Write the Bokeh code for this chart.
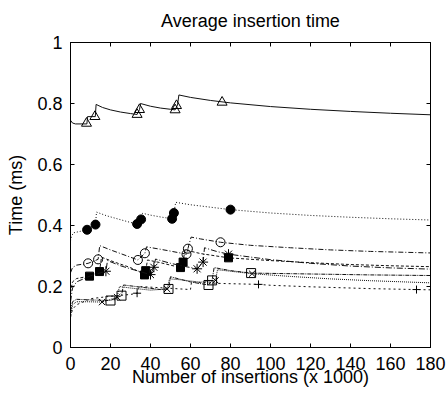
from bokeh.plotting import figure
from bokeh.models import Range1d, FixedTicker, LinearAxis
from bokeh.embed import file_html
from bokeh.resources import INLINE

title_text = "Average insertion time"
x_label = "Number of insertions (x 1000)"
y_label = "Time (ms)"
x_ticks = [0, 20, 40, 60, 80, 100, 120, 140, 160, 180]
x_tick_labels = ["0", "20", "40", "60", "80", "100", "120", "140", "160", "180"]
y_ticks = [0, 0.2, 0.4, 0.6, 0.8, 1.0]
y_tick_labels = ["0", "0.2", "0.4", "0.6", "0.8", "1"]

# Series A: open triangles, solid line
xA = [0, 1, 2.5, 8.2, 8.5, 12.4, 12.8, 16, 20, 25, 30, 33.3, 34.5, 35, 40, 45, 50, 52.3, 53.5, 54.2, 60, 70, 80, 100, 120, 140, 160, 180]
yA = [0.745, 0.736, 0.733, 0.733, 0.757, 0.757, 0.797, 0.787, 0.779, 0.772, 0.767, 0.764, 0.780, 0.800, 0.791, 0.785, 0.781, 0.779, 0.795, 0.828, 0.820, 0.810, 0.802, 0.790, 0.781, 0.774, 0.768, 0.763]
xA_pts = [8, 12.2, 33.3, 34.5, 52.3, 53, 75.8]
yA_pts = [0.735, 0.757, 0.764, 0.780, 0.779, 0.793, 0.804]

# Series B: filled circles
xB = [0, 0.5, 1.5, 5, 8.3, 12.5, 13, 18, 25, 30, 33.3, 35.3, 36, 40, 45, 50.8, 51.7, 52.6, 60, 70, 80, 100, 120, 140, 160, 180]
yB = [0.350, 0.365, 0.376, 0.381, 0.386, 0.403, 0.444, 0.432, 0.419, 0.410, 0.405, 0.420, 0.440, 0.434, 0.428, 0.422, 0.441, 0.476, 0.468, 0.460, 0.452, 0.441, 0.433, 0.427, 0.422, 0.418]
xB_pts = [8.3, 12.5, 33.3, 35.3, 50.8, 51.7, 80]
yB_pts = [0.386, 0.403, 0.405, 0.420, 0.422, 0.441, 0.452]

# Series C: open circles
xC = [0, 1, 3, 8.8, 13.8, 14.6, 20, 25, 30, 33.7, 37.2, 38, 45, 50, 58, 58.7, 60.3, 65, 75, 90, 110, 130, 150, 180]
yC = [0.245, 0.262, 0.270, 0.276, 0.289, 0.334, 0.320, 0.308, 0.296, 0.287, 0.309, 0.330, 0.322, 0.316, 0.306, 0.324, 0.362, 0.356, 0.345, 0.335, 0.327, 0.320, 0.315, 0.310]
xC_pts = [8.8, 13.8, 33.7, 37.2, 58, 58.7, 75]
yC_pts = [0.276, 0.289, 0.287, 0.309, 0.306, 0.324, 0.345]

# Series D: filled squares
xD = [0, 1, 3, 9.5, 14.5, 15.5, 22, 30, 37, 37.6, 38.5, 45, 50, 55, 56.3, 57.2, 65, 79, 100, 120, 140, 160, 180]
yD = [0.180, 0.215, 0.226, 0.234, 0.249, 0.296, 0.280, 0.262, 0.240, 0.252, 0.287, 0.278, 0.270, 0.262, 0.280, 0.320, 0.308, 0.294, 0.285, 0.278, 0.272, 0.268, 0.265]
xD_pts = [9.5, 14.5, 37, 37.6, 55, 56.3, 79]
yD_pts = [0.234, 0.249, 0.238, 0.252, 0.262, 0.280, 0.294]

# Series E: asterisks
xE = [0, 1, 3, 10, 17.7, 18.5, 25, 32, 40, 41.7, 42.5, 50, 57, 63.3, 66.3, 67, 73, 79, 100, 120, 140, 160, 180]
yE = [0.150, 0.195, 0.215, 0.235, 0.250, 0.285, 0.268, 0.254, 0.239, 0.263, 0.290, 0.276, 0.266, 0.258, 0.280, 0.327, 0.315, 0.306, 0.288, 0.276, 0.267, 0.261, 0.257]
xE_pts = [17.7, 40, 41.7, 63.3, 66.3, 79]
yE_pts = [0.250, 0.239, 0.263, 0.258, 0.280, 0.306]

# Series F: crosses
xF = [0, 1, 3, 8, 15.8, 23.3, 24.5, 30, 40, 48.3, 49.5, 55, 65, 72.5, 73.5, 80, 90.8, 110, 130, 150, 180]
yF = [0.100, 0.140, 0.150, 0.150, 0.149, 0.165, 0.200, 0.195, 0.188, 0.192, 0.225, 0.222, 0.214, 0.220, 0.255, 0.250, 0.242, 0.233, 0.225, 0.219, 0.212]
xF_pts = [15.8, 23.3, 48.3, 72.5, 90.8]
yF_pts = [0.149, 0.165, 0.192, 0.220, 0.242]

# Series G: open squares
xG = [0, 1, 3, 10, 20, 25.5, 26.5, 35, 45, 49, 50, 60, 69, 70.8, 71.8, 80, 90.3, 110, 130, 150, 180]
yG = [0.120, 0.150, 0.158, 0.156, 0.154, 0.170, 0.205, 0.198, 0.190, 0.192, 0.232, 0.215, 0.205, 0.220, 0.262, 0.252, 0.244, 0.242, 0.240, 0.238, 0.236]
xG_pts = [20, 25.5, 49, 69, 70.8, 90.3]
yG_pts = [0.154, 0.170, 0.192, 0.205, 0.220, 0.244]

# Series H: plus signs
xH = [0, 1, 3, 10, 20, 30, 33.3, 34, 45, 55, 60, 60.5, 75, 94, 100, 120, 150, 173, 180]
yH = [0.100, 0.125, 0.140, 0.160, 0.168, 0.174, 0.178, 0.200, 0.196, 0.192, 0.190, 0.215, 0.210, 0.207, 0.204, 0.199, 0.193, 0.190, 0.189]
xH_pts = [33.3, 94, 173]
yH_pts = [0.178, 0.207, 0.190]

FONT = "Liberation Sans"

p = figure(width=446, height=394, output_backend="svg", toolbar_location=None,
           x_range=Range1d(0, 180), y_range=Range1d(0, 1),
           min_border_left=70, min_border_right=16, min_border_top=42, min_border_bottom=47,
           title=title_text)
p.title.align = "center"
p.title.vertical_align = "top"
p.title.text_font = FONT
p.title.text_font_size = "18px"
p.title.text_font_style = "normal"
p.title.text_color = "black"
p.title.standoff = 19
p.grid.visible = False
p.outline_line_color = "black"
p.outline_line_width = 1
p.background_fill_color = "white"
p.border_fill_color = "white"

def style_axis(ax, ticks, labels, show_labels=True):
    ax.ticker = FixedTicker(ticks=ticks)
    ax.major_tick_in = 4
    ax.major_tick_out = 0
    ax.minor_tick_line_color = None
    ax.axis_line_color = "black"
    ax.major_tick_line_color = "black"
    ax.major_label_text_font = FONT
    ax.axis_label_text_font = FONT
    ax.axis_label_text_font_style = "normal"
    ax.axis_label_text_color = "black"
    ax.axis_label_text_font_size = "18px"
    if show_labels:
        ax.major_label_overrides = {t: l for t, l in zip(ticks, labels)}
        ax.major_label_text_font_size = "18px"
        ax.major_label_text_color = "black"
    else:
        ax.major_label_overrides = {t: "" for t in ticks}
        ax.major_label_text_font_size = "1px"
        ax.major_label_text_color = None
        ax.major_label_standoff = 0

xa = p.xaxis[0]
ya = p.yaxis[0]
style_axis(xa, x_ticks, x_tick_labels)
style_axis(ya, y_ticks, y_tick_labels)
xa.axis_label = x_label
ya.axis_label = y_label
xa.major_label_standoff = 9
xa.axis_label_standoff = -6
ya.major_label_standoff = 8
ya.axis_label_standoff = 8

top_ax = LinearAxis()
style_axis(top_ax, x_ticks, x_tick_labels, show_labels=False)
p.add_layout(top_ax, "above")
right_ax = LinearAxis()
style_axis(right_ax, y_ticks, y_tick_labels, show_labels=False)
p.add_layout(right_ax, "right")

series = [
    (xA, yA, xA_pts, yA_pts, "solid", "triangle", 10, None),
    (xB, yB, xB_pts, yB_pts, "1 2", "circle", 9, "black"),
    (xC, yC, xC_pts, yC_pts, "5 2 1 2", "circle", 9, None),
    (xD, yD, xD_pts, yD_pts, "3 2", "square", 8, "black"),
    (xE, yE, xE_pts, yE_pts, "6 2 1 2", "asterisk", 10, None),
    (xF, yF, xF_pts, yF_pts, "1 1", "x", 9, None),
    (xG, yG, xG_pts, yG_pts, "4 1 1 1", "square", 9, None),
    (xH, yH, xH_pts, yH_pts, "2 3", "cross", 8, None),
]

for xs, ys, xp, yp, dash, marker, size, fill in series:
    p.line(xs, ys, line_color="#111111", line_width=1, line_dash=dash)
    p.scatter(xp, yp, marker=marker, size=size, line_color="black", line_width=1,
              fill_color=fill if fill else "white", fill_alpha=1.0 if fill else 0.0)

open("out.html", "w").write(file_html(p, INLINE))
